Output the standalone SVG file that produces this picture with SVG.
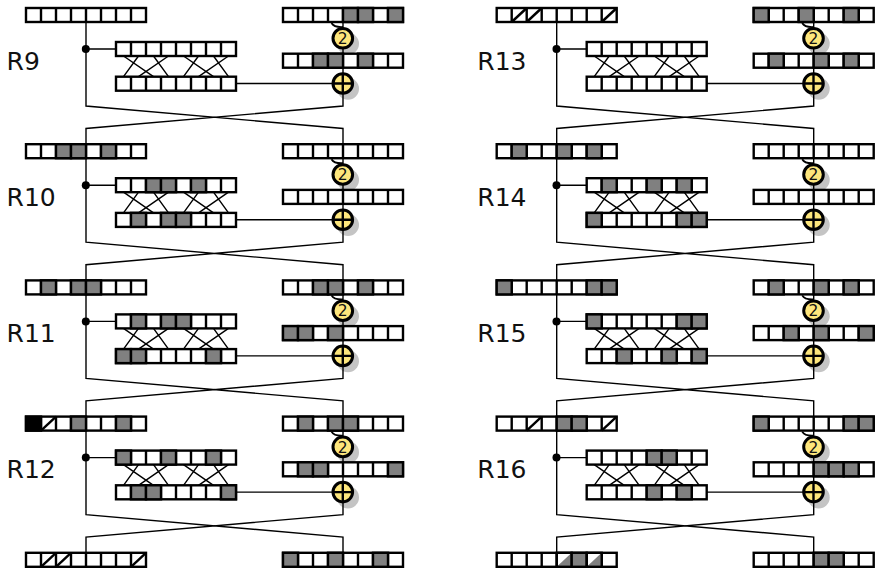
<svg xmlns="http://www.w3.org/2000/svg" xmlns:xlink="http://www.w3.org/1999/xlink" width="877" height="569" viewBox="0 0 877 569">
<style>
.l{font-family:"DejaVu Sans",sans-serif;font-size:25px;fill:#111}
.n{font-family:"DejaVu Sans",sans-serif;font-size:15.5px;fill:#111;text-anchor:middle}
.w{fill:none;stroke:#000;stroke-width:1.4}
.h{fill:none;stroke:#000;stroke-width:1.8}
.c{stroke:#000;stroke-width:2.4}
.s{fill:#c4c4c4}
.o{fill:#fde67c;stroke:#000;stroke-width:3}
</style>
<defs>
<g id="reg"><rect class="c" width="120" height="14" fill="#fff"/><path class="c" fill="none" d="M15 0V14M30 0V14M45 0V14M60 0V14M75 0V14M90 0V14M105 0V14"/></g>
<rect id="g" class="c" width="15" height="14" fill="#808080"/>
<rect id="b" class="c" width="15" height="14" fill="#000"/>
<path id="d" class="c" fill="none" d="M0 14L15 0"/>
<g id="q"><path fill="#808080" d="M0 14L15 0V14Z"/><rect class="c" width="15" height="14" fill="none"/></g>
<g id="wires">
<path class="w" d="M86 22V106L343 128.5V150M343 22V106L86 128.5V150M86 49H116M236 83.5H343"/>
<path class="w" d="M123.5 56L153.5 76.7M138.5 56L123.5 76.7M153.5 56L168.5 76.7M168.5 56L138.5 76.7M183.5 56L213.5 76.7M198.5 56L183.5 76.7M213.5 56L228.5 76.7M228.5 56L198.5 76.7"/>
<path class="h" d="M331.5 23Q334 27.5 343 27"/>
</g>
<g id="shad"><circle class="s" cx="348" cy="43.8" r="11"/><circle class="s" cx="348" cy="88.8" r="11"/></g>
<circle id="op" class="o" cx="342.8" cy="38.3" r="9.8"/>
<g id="xor"><circle class="o" cx="342.8" cy="83.5" r="9.8"/><path class="c" fill="none" d="M333 83.5H352.6M342.8 73.7V93.3"/></g>
</defs>
<g id="shadows">
<use href="#shad" transform="translate(0,0)"/><use href="#shad" transform="translate(0,136.2)"/><use href="#shad" transform="translate(0,272.4)"/><use href="#shad" transform="translate(0,408.6)"/>
<use href="#shad" transform="translate(470.7,0)"/><use href="#shad" transform="translate(470.7,136.2)"/><use href="#shad" transform="translate(470.7,272.4)"/><use href="#shad" transform="translate(470.7,408.6)"/>
</g>
<g id="connectors">
<use href="#wires" transform="translate(0,0)"/><use href="#wires" transform="translate(0,136.2)"/><use href="#wires" transform="translate(0,272.4)"/><use href="#wires" transform="translate(0,408.6)"/>
<use href="#wires" transform="translate(470.7,0)"/><use href="#wires" transform="translate(470.7,136.2)"/><use href="#wires" transform="translate(470.7,272.4)"/><use href="#wires" transform="translate(470.7,408.6)"/>
</g>

<g id="R9" transform="translate(0,0)">
<text class="l" x="6.6" y="69.5">R9</text>
<g id="R9-left" transform="translate(26,8)"><use href="#reg"/></g>
<g id="R9-right" transform="translate(283,8)"><use href="#reg"/><use href="#g" x="60"/><use href="#g" x="75"/><use href="#g" x="105"/></g>
<g id="R9-rot"><use href="#op"/><text class="n" x="342.8" y="44">2</text></g>
<g id="R9-mid" transform="translate(283,53.7)"><use href="#reg"/><use href="#g" x="30"/><use href="#g" x="45"/><use href="#g" x="75"/></g>
<g id="R9-xor"><use href="#xor"/></g>
<g id="R9-in" transform="translate(116,42)"><use href="#reg"/></g>
<g id="R9-out" transform="translate(116,76.7)"><use href="#reg"/></g>
<circle id="R9-dot" cx="85.8" cy="49" r="4"/>
</g>

<g id="R10" transform="translate(0,136.2)">
<text class="l" x="6.6" y="69.5">R10</text>
<g id="R10-left" transform="translate(26,8)"><use href="#reg"/><use href="#g" x="30"/><use href="#g" x="45"/><use href="#g" x="75"/></g>
<g id="R10-right" transform="translate(283,8)"><use href="#reg"/></g>
<g id="R10-rot"><use href="#op"/><text class="n" x="342.8" y="44">2</text></g>
<g id="R10-mid" transform="translate(283,53.7)"><use href="#reg"/></g>
<g id="R10-xor"><use href="#xor"/></g>
<g id="R10-in" transform="translate(116,42)"><use href="#reg"/><use href="#g" x="30"/><use href="#g" x="45"/><use href="#g" x="75"/></g>
<g id="R10-out" transform="translate(116,76.7)"><use href="#reg"/><use href="#g" x="15"/><use href="#g" x="45"/><use href="#g" x="60"/></g>
<circle id="R10-dot" cx="85.8" cy="49" r="4"/>
</g>

<g id="R11" transform="translate(0,272.4)">
<text class="l" x="6.6" y="69.5">R11</text>
<g id="R11-left" transform="translate(26,8)"><use href="#reg"/><use href="#g" x="15"/><use href="#g" x="45"/><use href="#g" x="60"/></g>
<g id="R11-right" transform="translate(283,8)"><use href="#reg"/><use href="#g" x="30"/><use href="#g" x="45"/><use href="#g" x="75"/></g>
<g id="R11-rot"><use href="#op"/><text class="n" x="342.8" y="44">2</text></g>
<g id="R11-mid" transform="translate(283,53.7)"><use href="#reg"/><use href="#g" x="0"/><use href="#g" x="15"/><use href="#g" x="45"/></g>
<g id="R11-xor"><use href="#xor"/></g>
<g id="R11-in" transform="translate(116,42)"><use href="#reg"/><use href="#g" x="15"/><use href="#g" x="45"/><use href="#g" x="60"/></g>
<g id="R11-out" transform="translate(116,76.7)"><use href="#reg"/><use href="#g" x="0"/><use href="#g" x="15"/><use href="#g" x="90"/></g>
<circle id="R11-dot" cx="85.8" cy="49" r="4"/>
</g>

<g id="R12" transform="translate(0,408.6)">
<text class="l" x="6.6" y="69.5">R12</text>
<g id="R12-left" transform="translate(26,8)"><use href="#reg"/><use href="#b" x="0"/><use href="#d" x="15"/><use href="#g" x="45"/><use href="#g" x="90"/></g>
<g id="R12-right" transform="translate(283,8)"><use href="#reg"/><use href="#g" x="15"/><use href="#g" x="45"/><use href="#g" x="60"/></g>
<g id="R12-rot"><use href="#op"/><text class="n" x="342.8" y="44">2</text></g>
<g id="R12-mid" transform="translate(283,53.7)"><use href="#reg"/><use href="#g" x="15"/><use href="#g" x="30"/><use href="#g" x="105"/></g>
<g id="R12-xor"><use href="#xor"/></g>
<g id="R12-in" transform="translate(116,42)"><use href="#reg"/><use href="#g" x="0"/><use href="#g" x="45"/><use href="#g" x="90"/></g>
<g id="R12-out" transform="translate(116,76.7)"><use href="#reg"/><use href="#g" x="15"/><use href="#g" x="30"/><use href="#g" x="105"/></g>
<circle id="R12-dot" cx="85.8" cy="49" r="4"/>
<g id="out-left-1" transform="translate(26,144.2)"><use href="#reg"/><use href="#d" x="15"/><use href="#d" x="30"/><use href="#d" x="105"/></g>
<g id="out-right-1" transform="translate(283,144.2)"><use href="#reg"/><use href="#g" x="0"/><use href="#g" x="45"/><use href="#g" x="90"/></g>
</g>

<g id="R13" transform="translate(470.7,0)">
<text class="l" x="6.6" y="69.5">R13</text>
<g id="R13-left" transform="translate(26,8)"><use href="#reg"/><use href="#d" x="15"/><use href="#d" x="30"/><use href="#d" x="105"/></g>
<g id="R13-right" transform="translate(283,8)"><use href="#reg"/><use href="#g" x="0"/><use href="#g" x="45"/><use href="#g" x="90"/></g>
<g id="R13-rot"><use href="#op"/><text class="n" x="342.8" y="44">2</text></g>
<g id="R13-mid" transform="translate(283,53.7)"><use href="#reg"/><use href="#g" x="15"/><use href="#g" x="60"/><use href="#g" x="90"/></g>
<g id="R13-xor"><use href="#xor"/></g>
<g id="R13-in" transform="translate(116,42)"><use href="#reg"/></g>
<g id="R13-out" transform="translate(116,76.7)"><use href="#reg"/></g>
<circle id="R13-dot" cx="85.8" cy="49" r="4"/>
</g>

<g id="R14" transform="translate(470.7,136.2)">
<text class="l" x="6.6" y="69.5">R14</text>
<g id="R14-left" transform="translate(26,8)"><use href="#reg"/><use href="#g" x="15"/><use href="#g" x="60"/><use href="#g" x="90"/></g>
<g id="R14-right" transform="translate(283,8)"><use href="#reg"/></g>
<g id="R14-rot"><use href="#op"/><text class="n" x="342.8" y="44">2</text></g>
<g id="R14-mid" transform="translate(283,53.7)"><use href="#reg"/></g>
<g id="R14-xor"><use href="#xor"/></g>
<g id="R14-in" transform="translate(116,42)"><use href="#reg"/><use href="#g" x="15"/><use href="#g" x="60"/><use href="#g" x="90"/></g>
<g id="R14-out" transform="translate(116,76.7)"><use href="#reg"/><use href="#g" x="0"/><use href="#g" x="90"/><use href="#g" x="105"/></g>
<circle id="R14-dot" cx="85.8" cy="49" r="4"/>
</g>

<g id="R15" transform="translate(470.7,272.4)">
<text class="l" x="6.6" y="69.5">R15</text>
<g id="R15-left" transform="translate(26,8)"><use href="#reg"/><use href="#g" x="0"/><use href="#g" x="90"/><use href="#g" x="105"/></g>
<g id="R15-right" transform="translate(283,8)"><use href="#reg"/><use href="#g" x="15"/><use href="#g" x="60"/><use href="#g" x="90"/></g>
<g id="R15-rot"><use href="#op"/><text class="n" x="342.8" y="44">2</text></g>
<g id="R15-mid" transform="translate(283,53.7)"><use href="#reg"/><use href="#g" x="30"/><use href="#g" x="60"/><use href="#g" x="105"/></g>
<g id="R15-xor"><use href="#xor"/></g>
<g id="R15-in" transform="translate(116,42)"><use href="#reg"/><use href="#g" x="0"/><use href="#g" x="90"/><use href="#g" x="105"/></g>
<g id="R15-out" transform="translate(116,76.7)"><use href="#reg"/><use href="#g" x="30"/><use href="#g" x="75"/><use href="#g" x="105"/></g>
<circle id="R15-dot" cx="85.8" cy="49" r="4"/>
</g>

<g id="R16" transform="translate(470.7,408.6)">
<text class="l" x="6.6" y="69.5">R16</text>
<g id="R16-left" transform="translate(26,8)"><use href="#reg"/><use href="#d" x="30"/><use href="#g" x="60"/><use href="#g" x="75"/><use href="#d" x="105"/></g>
<g id="R16-right" transform="translate(283,8)"><use href="#reg"/><use href="#g" x="0"/><use href="#g" x="90"/><use href="#g" x="105"/></g>
<g id="R16-rot"><use href="#op"/><text class="n" x="342.8" y="44">2</text></g>
<g id="R16-mid" transform="translate(283,53.7)"><use href="#reg"/><use href="#g" x="60"/><use href="#g" x="75"/><use href="#g" x="90"/></g>
<g id="R16-xor"><use href="#xor"/></g>
<g id="R16-in" transform="translate(116,42)"><use href="#reg"/><use href="#g" x="60"/><use href="#g" x="75"/></g>
<g id="R16-out" transform="translate(116,76.7)"><use href="#reg"/><use href="#g" x="60"/><use href="#g" x="90"/></g>
<circle id="R16-dot" cx="85.8" cy="49" r="4"/>
<g id="out-left-2" transform="translate(26,144.2)"><use href="#reg"/><use href="#q" x="60"/><use href="#g" x="75"/><use href="#q" x="90"/></g>
<g id="out-right-2" transform="translate(283,144.2)"><use href="#reg"/><use href="#g" x="60"/><use href="#g" x="75"/></g>
</g>
</svg>
